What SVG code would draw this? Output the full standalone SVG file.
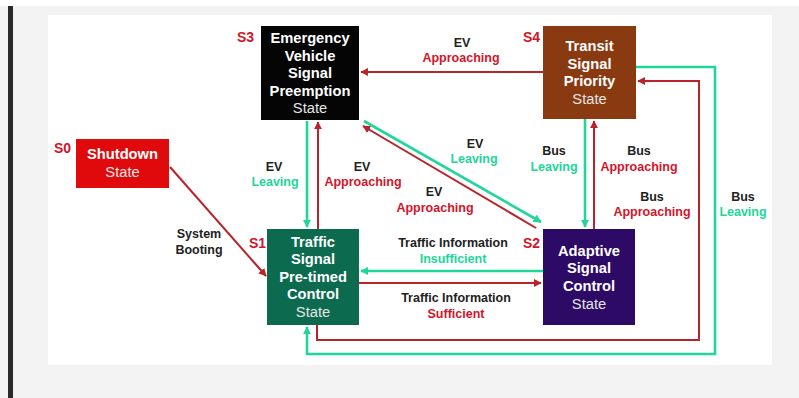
<svg xmlns="http://www.w3.org/2000/svg" width="799" height="398" viewBox="0 0 799 398">
  <defs>
    <marker id="arrRed" viewBox="0 0 10 10" refX="9" refY="5" markerWidth="4" markerHeight="4" orient="auto" markerUnits="strokeWidth">
      <path d="M0,0 L10,5 L0,10 z" fill="#b8242a"/>
    </marker>
    <marker id="arrGreen" viewBox="0 0 10 10" refX="9" refY="5" markerWidth="3.2" markerHeight="3.2" orient="auto" markerUnits="strokeWidth">
      <path d="M0,0 L10,5 L0,10 z" fill="#22d69a"/>
    </marker>
    <style>
      text { font-family: "Liberation Sans", Arial, sans-serif; font-weight: bold; text-anchor: middle; }
      .lbl { font-size: 12.5px; }
      .blk { fill: #222222; }
      .red { fill: #d3142a; }
      .grn { fill: #22d69a; }
      .sid { font-size: 14px; fill: #d3142a; text-anchor: start; }
      .nt { font-size: 14.7px; fill: #ffffff; }
      .st { font-size: 14.7px; font-weight: normal; fill: #e6e6e6; }
      .r { fill: none; stroke: #b8242a; stroke-width: 2; marker-end: url(#arrRed); }
      .g { fill: none; stroke: #22d69a; stroke-width: 2.6; marker-end: url(#arrGreen); }
    </style>
  </defs>

  <!-- page background, frame and side bar -->
  <rect x="0" y="0" width="799" height="398" fill="#f3f3f3"/>
  <rect x="0" y="0" width="799" height="6" fill="#ffffff"/>
  <rect x="8" y="6" width="5" height="392" fill="#2a2a2a"/>
  <rect x="48" y="15" width="724" height="350" fill="#ffffff"/>

  <!-- transitions -->
  <g id="connectors">
    <path class="r" d="M170,167 L266,276"/>
    <path class="r" d="M318,229 L318,122"/>
    <path class="g" d="M307,121 L307,227"/>
    <path class="r" d="M543,72 L361,72"/>
    <path class="g" d="M364,121 L541,222"/>
    <path class="r" d="M536,228 L363,126"/>
    <path class="g" d="M585,119 L585,227"/>
    <path class="r" d="M594,229 L594,121"/>
    <path class="r" d="M317,325 L317,340 L699,340 L699,81 L638,81"/>
    <path class="g" d="M636,67 L715,67 L715,354 L307,354 L307,327"/>
    <path class="g" d="M543,271 L361,271"/>
    <path class="r" d="M359,283 L541,283"/>
  </g>

  <!-- transition labels -->
  <g id="labels" class="lbl">
    <text x="462" y="47" class="blk">EV</text>
    <text x="461" y="62" class="red">Approaching</text>
    <text x="274" y="171" class="blk">EV</text>
    <text x="275" y="186" class="grn">Leaving</text>
    <text x="362" y="171" class="blk">EV</text>
    <text x="363" y="186" class="red">Approaching</text>
    <text x="475" y="148" class="blk">EV</text>
    <text x="474" y="163" class="grn">Leaving</text>
    <text x="434" y="196" class="blk">EV</text>
    <text x="435" y="212" class="red">Approaching</text>
    <text x="554" y="155" class="blk">Bus</text>
    <text x="554" y="171" class="grn">Leaving</text>
    <text x="639" y="155" class="blk">Bus</text>
    <text x="639" y="171" class="red">Approaching</text>
    <text x="652" y="201" class="blk">Bus</text>
    <text x="652" y="216" class="red">Approaching</text>
    <text x="743" y="201" class="blk">Bus</text>
    <text x="743" y="216" class="grn">Leaving</text>
    <text x="199" y="238" class="blk">System</text>
    <text x="199" y="254" class="blk">Booting</text>
    <text x="453" y="247" class="blk">Traffic Information</text>
    <text x="453" y="263" class="grn">Insufficient</text>
    <text x="456" y="302" class="blk">Traffic Information</text>
    <text x="456" y="318" class="red">Sufficient</text>
  </g>

  <!-- S0 -->
  <g id="s0">
    <rect x="76" y="139" width="93" height="49" fill="#e00a0c"/>
    <text x="54" y="153" class="sid">S0</text>
    <text x="122.5" y="159" class="nt">Shutdown</text>
    <text x="122.5" y="177" class="st">State</text>
  </g>

  <!-- S3 -->
  <g id="s3">
    <rect x="261" y="26" width="98" height="94" fill="#050505"/>
    <text x="237" y="42" class="sid">S3</text>
    <text x="310" y="43" class="nt">Emergency</text>
    <text x="310" y="61" class="nt">Vehicle</text>
    <text x="310" y="78" class="nt">Signal</text>
    <text x="310" y="96" class="nt">Preemption</text>
    <text x="310" y="113" class="st">State</text>
  </g>

  <!-- S4 -->
  <g id="s4">
    <rect x="543" y="26" width="93" height="93" fill="#8a3a10"/>
    <text x="523" y="42" class="sid">S4</text>
    <text x="589.5" y="51" class="nt">Transit</text>
    <text x="589.5" y="69" class="nt">Signal</text>
    <text x="589.5" y="86" class="nt">Priority</text>
    <text x="589.5" y="104" class="st">State</text>
  </g>

  <!-- S1 -->
  <g id="s1">
    <rect x="267" y="229" width="92" height="96" fill="#0c6a4e"/>
    <text x="249" y="248" class="sid">S1</text>
    <text x="313" y="247" class="nt">Traffic</text>
    <text x="313" y="264" class="nt">Signal</text>
    <text x="313" y="282" class="nt">Pre-timed</text>
    <text x="313" y="299" class="nt">Control</text>
    <text x="313" y="317" class="st">State</text>
  </g>

  <!-- S2 -->
  <g id="s2">
    <rect x="543" y="229" width="92" height="96" fill="#2c0a66"/>
    <text x="523" y="248" class="sid">S2</text>
    <text x="589" y="256" class="nt">Adaptive</text>
    <text x="589" y="273" class="nt">Signal</text>
    <text x="589" y="291" class="nt">Control</text>
    <text x="589" y="309" class="st">State</text>
  </g>
</svg>
